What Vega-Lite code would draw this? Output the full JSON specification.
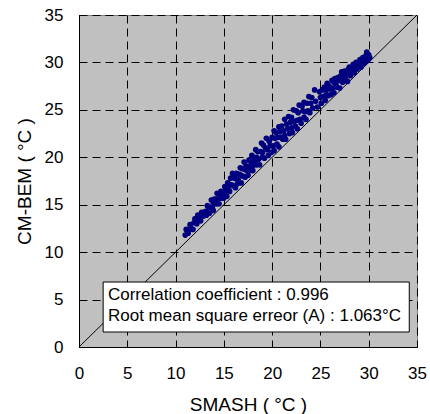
{
  "$schema": "https://vega.github.io/schema/vega-lite/v6.json",
  "width": 338,
  "height": 332,
  "autosize": "none",
  "padding": {"left": 79, "top": 15, "right": 13, "bottom": 67},
  "background": "white",
  "config": {
    "view": {"fill": "#C0C0C0", "stroke": "#808080", "strokeWidth": 1},
    "axis": {
      "grid": true, "gridColor": "black", "gridDash": [8, 5], "gridOpacity": 1, "gridWidth": 1,
      "domainColor": "black", "domainWidth": 1,
      "ticks": true, "tickSize": -5, "tickColor": "black",
      "labelFlush": false,
      "labelFont": "Liberation Sans", "labelFontSize": 17, "labelColor": "black",
      "titleFont": "Liberation Sans", "titleFontSize": 19, "titleFontWeight": "normal", "titleColor": "black"
    }
  },
  "datasets": {
    "pts": [
      {"smash":11.0,"cm":11.8},{"smash":11.1,"cm":12.4},{"smash":11.3,"cm":12.0},{"smash":11.2,"cm":12.3},{"smash":11.5,"cm":12.9},{"smash":11.6,"cm":12.5},{"smash":11.4,"cm":12.4},{"smash":11.8,"cm":12.4},{"smash":12.0,"cm":13.5},{"smash":11.9,"cm":13.1},{"smash":12.2,"cm":13.0},{"smash":12.1,"cm":13.5},{"smash":12.4,"cm":13.4},{"smash":12.3,"cm":13.9},{"smash":12.6,"cm":13.3},{"smash":12.5,"cm":13.8},{"smash":12.8,"cm":13.9},{"smash":12.9,"cm":13.8},{"smash":12.7,"cm":14.2},{"smash":13.0,"cm":14.2},
      {"smash":13.1,"cm":14.3},{"smash":13.2,"cm":13.9},{"smash":13.3,"cm":14.9},{"smash":13.3,"cm":14.3},{"smash":13.5,"cm":14.1},{"smash":13.4,"cm":14.8},{"smash":13.6,"cm":14.7},{"smash":13.7,"cm":15.5},{"smash":13.8,"cm":14.7},{"smash":13.9,"cm":15.2},{"smash":13.9,"cm":14.4},{"smash":14.0,"cm":15.6},{"smash":14.1,"cm":15.1},{"smash":14.2,"cm":15.6},{"smash":14.3,"cm":15.1},{"smash":14.3,"cm":16.2},{"smash":14.4,"cm":15.6},{"smash":14.5,"cm":15.1},{"smash":14.6,"cm":16.1},{"smash":14.6,"cm":15.7},{"smash":14.8,"cm":15.7},{"smash":14.7,"cm":16.4},{"smash":14.9,"cm":16.2},{"smash":15.0,"cm":15.7},{"smash":15.1,"cm":16.9},{"smash":15.1,"cm":16.3},{"smash":15.2,"cm":16.7},{"smash":15.3,"cm":15.9},{"smash":15.4,"cm":17.3},{"smash":15.5,"cm":16.6},{"smash":15.5,"cm":17.1},{"smash":15.6,"cm":16.4},{"smash":15.7,"cm":17.8},{"smash":15.8,"cm":17.1},{"smash":15.9,"cm":18.3},
      {"smash":16.0,"cm":17.0},{"smash":16.1,"cm":17.8},{"smash":16.2,"cm":16.8},{"smash":16.3,"cm":17.7},{"smash":16.3,"cm":18.3},{"smash":16.5,"cm":17.6},{"smash":16.4,"cm":17.2},{"smash":16.6,"cm":18.2},{"smash":16.7,"cm":18.9},{"smash":16.8,"cm":17.3},{"smash":16.8,"cm":18.1},{"smash":16.9,"cm":18.8},{"smash":17.0,"cm":18.0},{"smash":17.1,"cm":19.5},{"smash":17.2,"cm":17.9},{"smash":17.2,"cm":18.7},{"smash":17.3,"cm":19.1},{"smash":17.4,"cm":18.6},{"smash":17.5,"cm":18.1},{"smash":17.6,"cm":19.7},{"smash":17.6,"cm":19.0},{"smash":17.7,"cm":18.6},{"smash":17.8,"cm":19.5},{"smash":17.9,"cm":20.2},{"smash":18.0,"cm":19.1},{"smash":18.0,"cm":18.6},{"smash":18.1,"cm":20.0},{"smash":18.2,"cm":19.6},{"smash":18.3,"cm":20.8},{"smash":18.4,"cm":19.2},{"smash":18.4,"cm":20.0},{"smash":18.5,"cm":20.6},{"smash":18.6,"cm":19.8},{"smash":18.7,"cm":19.2},{"smash":18.8,"cm":20.6},{"smash":18.9,"cm":21.5},{"smash":19.0,"cm":20.0},{"smash":19.0,"cm":20.5},{"smash":19.1,"cm":21.3},{"smash":19.2,"cm":19.9},{"smash":19.3,"cm":21.0},{"smash":19.4,"cm":22.0},{"smash":19.5,"cm":20.8},{"smash":19.6,"cm":20.2},{"smash":19.7,"cm":21.7},
      {"smash":19.8,"cm":21.2},{"smash":19.9,"cm":20.5},{"smash":20.0,"cm":22.1},{"smash":20.1,"cm":21.2},{"smash":20.2,"cm":22.8},{"smash":20.2,"cm":20.7},{"smash":20.3,"cm":22.0},{"smash":20.4,"cm":22.6},{"smash":20.5,"cm":21.4},{"smash":20.6,"cm":22.1},{"smash":20.7,"cm":23.2},{"smash":20.7,"cm":21.1},{"smash":20.8,"cm":22.7},{"smash":20.9,"cm":22.1},{"smash":21.0,"cm":23.3},{"smash":21.1,"cm":21.9},{"smash":21.2,"cm":22.8},{"smash":21.3,"cm":24.0},{"smash":21.3,"cm":22.3},{"smash":21.4,"cm":21.9},{"smash":21.5,"cm":23.5},{"smash":21.6,"cm":23.0},{"smash":21.7,"cm":24.3},{"smash":21.8,"cm":22.5},{"smash":21.9,"cm":23.7},{"smash":22.0,"cm":24.2},{"smash":22.0,"cm":23.1},{"smash":22.1,"cm":22.6},{"smash":22.2,"cm":25.0},{"smash":22.3,"cm":23.8},{"smash":22.4,"cm":23.3},{"smash":22.5,"cm":24.9},{"smash":22.6,"cm":23.9},{"smash":22.6,"cm":23.0},{"smash":22.7,"cm":24.7},{"smash":22.8,"cm":25.5},{"smash":22.9,"cm":24.0},{"smash":23.0,"cm":23.6},{"smash":23.1,"cm":25.4},{"smash":23.2,"cm":24.9},{"smash":23.3,"cm":24.2},{"smash":23.3,"cm":25.8},{"smash":23.4,"cm":24.8},{"smash":23.5,"cm":24.0},{"smash":23.6,"cm":25.7},{"smash":23.7,"cm":24.9},{"smash":23.8,"cm":26.4},{"smash":23.9,"cm":24.7},{"smash":24.0,"cm":25.7},{"smash":24.1,"cm":26.3},{"smash":24.2,"cm":25.2},{"smash":24.4,"cm":27.1},{"smash":24.5,"cm":25.9},{"smash":24.7,"cm":25.3},{"smash":24.9,"cm":26.9},
      {"smash":25.0,"cm":26.3},{"smash":25.1,"cm":25.7},{"smash":25.2,"cm":27.1},{"smash":25.3,"cm":26.4},{"smash":25.4,"cm":27.4},{"smash":25.5,"cm":26.0},{"smash":25.6,"cm":27.1},{"smash":25.6,"cm":26.6},{"smash":25.7,"cm":27.8},{"smash":25.8,"cm":26.5},{"smash":25.9,"cm":27.5},{"smash":26.0,"cm":27.2},{"smash":26.1,"cm":26.6},{"smash":26.2,"cm":28.1},{"smash":26.3,"cm":27.3},{"smash":26.4,"cm":27.9},{"smash":26.4,"cm":26.8},{"smash":26.5,"cm":28.3},{"smash":26.6,"cm":27.7},{"smash":26.7,"cm":27.4},{"smash":26.8,"cm":28.4},{"smash":26.9,"cm":28.1},{"smash":27.0,"cm":27.3},{"smash":27.1,"cm":28.6},{"smash":27.2,"cm":28.2},{"smash":27.2,"cm":29.0},{"smash":27.3,"cm":27.9},{"smash":27.4,"cm":28.7},{"smash":27.5,"cm":29.1},{"smash":27.6,"cm":28.4},{"smash":27.7,"cm":28.9},{"smash":27.8,"cm":28.0},{"smash":27.9,"cm":29.3},{"smash":28.0,"cm":28.9},{"smash":28.0,"cm":29.5},{"smash":28.1,"cm":28.6},{"smash":28.2,"cm":29.4},{"smash":28.3,"cm":29.1},{"smash":28.4,"cm":29.8},{"smash":28.5,"cm":28.9},{"smash":28.6,"cm":29.7},{"smash":28.6,"cm":29.3},{"smash":28.7,"cm":30.0},{"smash":28.8,"cm":29.3},{"smash":28.9,"cm":29.9},{"smash":29.0,"cm":29.6},{"smash":29.1,"cm":30.3},{"smash":29.2,"cm":29.5},{"smash":29.3,"cm":30.2},{"smash":29.4,"cm":30.5},{"smash":29.4,"cm":29.9},{"smash":29.5,"cm":30.3},{"smash":29.6,"cm":30.0},{"smash":29.7,"cm":30.7},{"smash":29.8,"cm":31.1},{"smash":29.8,"cm":30.4},{"smash":29.9,"cm":30.2},{"smash":30.0,"cm":30.8},{"smash":30.0,"cm":30.5},{"smash":30.1,"cm":30.5}
    ],
    "diag": [{"smash": 0, "cm": 0}, {"smash": 35, "cm": 35}],
    "box": [{"x1": 2.5, "x2": 34.2, "y1": 1.58, "y2": 6.85}],
    "labels": [
      {"x": 3.0, "y": 5.48, "t": "Correlation coefficient : 0.996"},
      {"x": 3.0, "y": 3.22, "t": "Root mean square erreor (A) : 1.063°C"}
    ]
  },
  "layer": [
    {
      "data": {"name": "diag"},
      "mark": {"type": "line", "color": "black", "strokeWidth": 1},
      "encoding": {
        "x": {"field": "smash", "type": "quantitative", "scale": {"domain": [0, 35], "nice": false, "zero": false},
              "axis": {"values": [0,5,10,15,20,25,30,35], "title": "SMASH ( °C )", "labelPadding": 23, "titlePadding": 14}},
        "y": {"field": "cm", "type": "quantitative", "scale": {"domain": [0, 35], "nice": false, "zero": false},
              "axis": {"values": [0,5,10,15,20,25,30,35], "title": "CM-BEM ( °C )", "labelPadding": 21, "titlePadding": 10}}
      }
    },
    {
      "data": {"name": "pts"},
      "mark": {"type": "circle", "color": "#000080", "opacity": 1, "size": 32},
      "encoding": {
        "x": {"field": "smash", "type": "quantitative"},
        "y": {"field": "cm", "type": "quantitative"}
      }
    },
    {
      "data": {"name": "box"},
      "mark": {"type": "rect", "fill": "white", "stroke": "black", "strokeWidth": 1},
      "encoding": {
        "x": {"field": "x1", "type": "quantitative"},
        "x2": {"field": "x2"},
        "y": {"field": "y1", "type": "quantitative"},
        "y2": {"field": "y2"}
      }
    },
    {
      "data": {"name": "labels"},
      "mark": {"type": "text", "align": "left", "baseline": "middle", "font": "Liberation Sans", "fontSize": 17, "color": "black"},
      "encoding": {
        "x": {"field": "x", "type": "quantitative"},
        "y": {"field": "y", "type": "quantitative"},
        "text": {"field": "t"}
      }
    }
  ]
}
